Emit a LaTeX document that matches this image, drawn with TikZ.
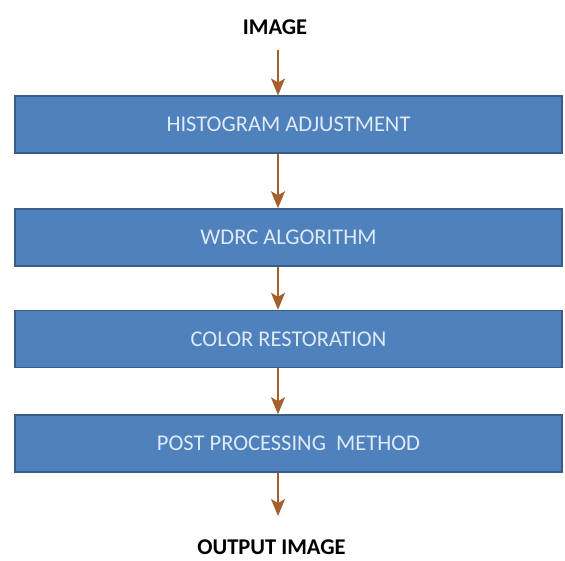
\documentclass[tikz,border=0pt]{standalone}
\usepackage{fontspec}
\setmainfont{Carlito}
\usetikzlibrary{arrows.meta}
\definecolor{boxfill}{RGB}{79,129,189}
\definecolor{boxedge}{RGB}{56,93,138}
\definecolor{boxtext}{RGB}{222,234,246}
\definecolor{flow}{RGB}{165,95,45}
\tikzset{
  x=1pt, y=-1pt,
  stepbox/.style={draw=boxedge, line width=1.5pt, fill=boxfill,
    minimum width=547pt, minimum height=57pt, inner sep=0pt,
    text=boxtext, font=\fontsize{22.5}{27}\selectfont},
  label/.style={font=\bfseries\fontsize{22.5}{27}\selectfont, text=black, inner sep=0pt},
  flowarrow/.style={draw=flow, line width=1.8pt,
    -{Stealth[length=17pt, width=14pt, inset=4pt]}}
}
\begin{document}
\begin{tikzpicture}
\useasboundingbox (0,0) rectangle (565,561);
\node[label] (in) at (275,27) {IMAGE};
\node[stepbox] (s1) at (288.5,124.5) {HISTOGRAM ADJUSTMENT};
\node[stepbox] (s2) at (288.5,237.5) {WDRC ALGORITHM};
\node[stepbox] (s3) at (288.5,339) {COLOR RESTORATION};
\node[stepbox] (s4) at (288.5,443.5) {POST PROCESSING\ \ METHOD};
\node[label] (out) at (271.5,547) {OUTPUT IMAGE};
\coordinate (a0) at (278,50);
\coordinate (a0e) at (278,95.5);
\draw[flowarrow] (a0) -- (a0e);
\draw[flowarrow] (s1.south -| a0) -- (s2.north -| a0);
\draw[flowarrow] (s2.south -| a0) -- (s3.north -| a0);
\draw[flowarrow] (s3.south -| a0) -- (s4.north -| a0);
\coordinate (a4e) at (278,516);
\draw[flowarrow] (s4.south -| a0) -- (a4e);
\end{tikzpicture}
\end{document}
